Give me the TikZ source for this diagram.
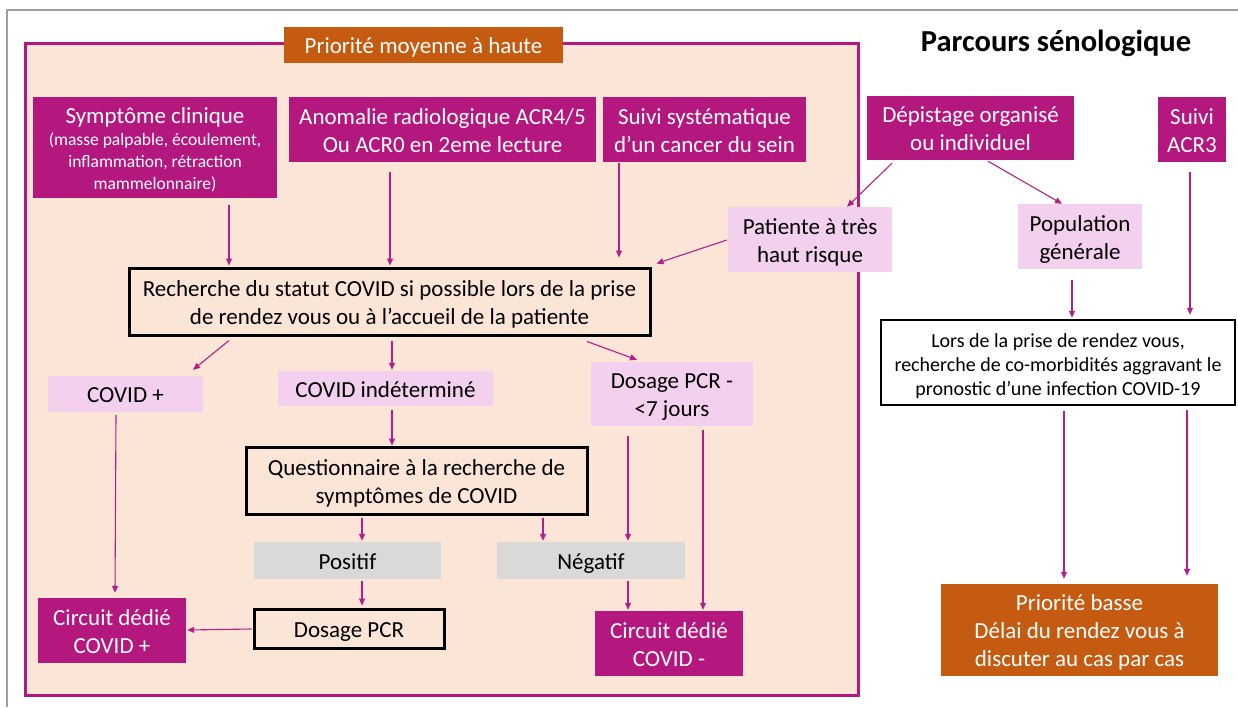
\documentclass[tikz,border=0pt]{standalone}
\usepackage{fontspec}
\setmainfont{Carlito}
\usetikzlibrary{arrows.meta}
\definecolor{mag}{HTML}{B4177E}
\definecolor{lpink}{HTML}{F2D0EE}
\definecolor{peach}{HTML}{FBE5D6}
\definecolor{orng}{HTML}{C55A11}
\definecolor{lgray}{HTML}{D9D9D9}
\definecolor{arrc}{HTML}{B41F8A}
\newcommand\sst{\rule[-5pt]{0pt}{27pt}}
\newcommand\dst{\rule[-5pt]{0pt}{5pt}}
\begin{document}
\begin{tikzpicture}[x=1pt,y=-1pt,
  sz/.style 2 args={minimum width=#1pt, minimum height=#2pt},
  box/.style={inner sep=0pt, align=flush center, font=\fontsize{23}{28}\selectfont},
  one/.style={text height=22pt, text depth=5pt},
  magbox/.style={box, fill=mag, text=white},
  pinkbox/.style={box, fill=lpink},
  graybox/.style={box, fill=lgray},
  blackbox/.style={box, draw=black, line width=3pt},
  orbox/.style={box, fill=orng, text=white},
  arr/.style={draw=arrc, line width=1.1pt, -{Triangle[length=7pt,width=6pt]}},
]
\useasboundingbox (0,0) rectangle (1238,707);
\fill[white] (0,0) rectangle (1238,707);
\draw[gray!75, line width=1.3pt] (7,707) -- (7,10) -- (1238,10);

% main frame
\node[draw=mag, fill=peach, line width=3pt, inner sep=0pt, sz={833}{652}] (frame) at (441.5,369) {};
\node[orbox, one, sz={279}{36}] (prio) at (423.5,45) {Priorité moyenne à haute};

% title
\node[font=\bfseries\fontsize{30.5}{36}\selectfont, inner sep=0pt] (title) at (1056,43.5) {Parcours sénologique};

% top boxes
\node[magbox, sz={244}{101}, text width=244pt] (symp) at (155,147.5)
  {\sst Symptôme clinique\par{\fontsize{17.5}{22}\selectfont (masse palpable, écoulement,\\ inflammation, rétraction\\ mammelonnaire)\dst\par}};
\node[magbox, sz={307}{65}] (anom) at (442.5,129.5) {\sst Anomalie radiologique ACR4/5\\ Ou ACR0 en 2eme lecture\dst};
\node[magbox, sz={203}{65}] (suivi) at (704.5,129.5) {\sst Suivi systématique\\ d’un cancer du sein\dst};
\node[magbox, sz={207}{64}] (depis) at (970.5,128) {\sst Dépistage organisé\\ ou individuel\dst};
\node[magbox, sz={68}{65}] (acr3) at (1192,129.5) {\sst Suivi\\ ACR3\dst};

\node[pinkbox, sz={164}{65}] (pat) at (810,239.5) {\sst Patiente à très\\ haut risque\dst};
\node[pinkbox, sz={124}{65}] (pop) at (1080,236.5) {\sst Population\\ générale\dst};

% middle
\node[blackbox, sz={521}{67}] (rech) at (389.5,301.5) {\sst Recherche du statut COVID si possible lors de la prise\\ de rendez vous ou à l’accueil de la patiente\dst};
\node[blackbox, fill=white, line width=2.5pt, sz={354}{85}, font=\fontsize{20}{24}\selectfont] (lors) at (1058,362.5)
  {\sst Lors de la prise de rendez vous,\\ recherche de co-morbidités aggravant le\\ pronostic d’une infection COVID-19\dst};

\node[pinkbox, one, sz={155}{36}] (covp) at (125.5,394) {COVID +};
\node[pinkbox, one, sz={215}{35}] (covi) at (385.5,388.5) {COVID indéterminé};
\node[pinkbox, sz={162}{64}] (dos7) at (672,394) {\sst Dosage PCR -\\ <7 jours\dst};

\node[blackbox, sz={341}{67}] (quest) at (416.5,480.5) {\sst Questionnaire à la recherche de\\ symptômes de COVID\dst};
\node[graybox, one, sz={187}{37}] (posit) at (347.5,560.5) {Positif};
\node[graybox, one, sz={188}{37}] (negat) at (591,560.5) {Négatif};
\node[blackbox, one, sz={190}{39}] (pcr) at (349,628.5) {Dosage PCR};

\node[magbox, sz={148}{65}] (circp) at (112,630.5) {\sst Circuit dédié\\ COVID +\dst};
\node[magbox, sz={148}{65}] (circm) at (669,643.5) {\sst Circuit dédié\\ COVID -\dst};
\node[orbox, sz={277}{92}] (basse) at (1079.5,630) {\sst Priorité basse\\ Délai du rendez vous à\\ discuter au cas par cas\dst};

% arrows
\draw[arr] ([shift={(74,7)}]symp.south) -- ([shift={(-160.5,-1)}]rech.north);
\draw[arr] ([shift={(-52.5,10)}]anom.south) -- ([shift={(0.5,-1)}]rech.north);
\draw[arr] ([shift={(-85.5,1)}]suivi.south) -- ([shift={(229.5,-9)}]rech.north);
\draw[arr] ([shift={(-1,0.5)}]pat.west) -- ([shift={(5,-3)}]rech.north east);
\draw[arr] ([shift={(-78.5,3)}]depis.south) -- ([shift={(37,0)}]pat.north);
\draw[arr] ([shift={(17.5,1)}]depis.south) -- ([shift={(-18,0)}]pop.north);
\draw[arr] ([shift={(-2,10)}]acr3.south) -- ([shift={(132,-4)}]lors.north);
\draw[arr] ([shift={(-8,11)}]pop.south) -- ([shift={(14,-1)}]lors.north);
\draw[arr] ([shift={(6,5)}]lors.south) -- ([shift={(-15.5,-5)}]basse.north);
\draw[arr] ([shift={(129,4)}]lors.south) -- ([shift={(107.5,-8)}]basse.north);
\draw[arr] ([shift={(-160.5,4)}]rech.south) -- ([shift={(67.5,-6)}]covp.north);
\draw[arr] ([shift={(2.5,4)}]rech.south) -- ([shift={(6.5,-1)}]covi.north);
\draw[arr] ([shift={(197.5,5)}]rech.south) -- ([shift={(-35,-2)}]dos7.north);
\draw[arr] ([shift={(-9.5,3)}]covp.south) -- ([shift={(3,-5)}]circp.north);
\draw[arr] ([shift={(6.5,4)}]covi.south) -- ([shift={(-24.5,0)}]quest.north);
\draw[arr] ([shift={(-54.5,2)}]quest.south) -- ([shift={(14.5,-1)}]posit.north);
\draw[arr] ([shift={(126.5,2)}]quest.south) -- ([shift={(-48,-1)}]negat.north);
\draw[arr] ([shift={(14.5,2)}]posit.south) -- ([shift={(13,-2)}]pcr.north);
\draw[arr] ([shift={(-1,0.5)}]pcr.west) -- ([shift={(1,-0.5)}]circp.east);
\draw[arr] ([shift={(-44,10)}]dos7.south) -- ([shift={(37,-1)}]negat.north);
\draw[arr] ([shift={(31,4)}]dos7.south) -- ([shift={(34,-1)}]circm.north);
\draw[arr] ([shift={(37,2)}]negat.south) -- ([shift={(-41,-1)}]circm.north);
\end{tikzpicture}
\end{document}
